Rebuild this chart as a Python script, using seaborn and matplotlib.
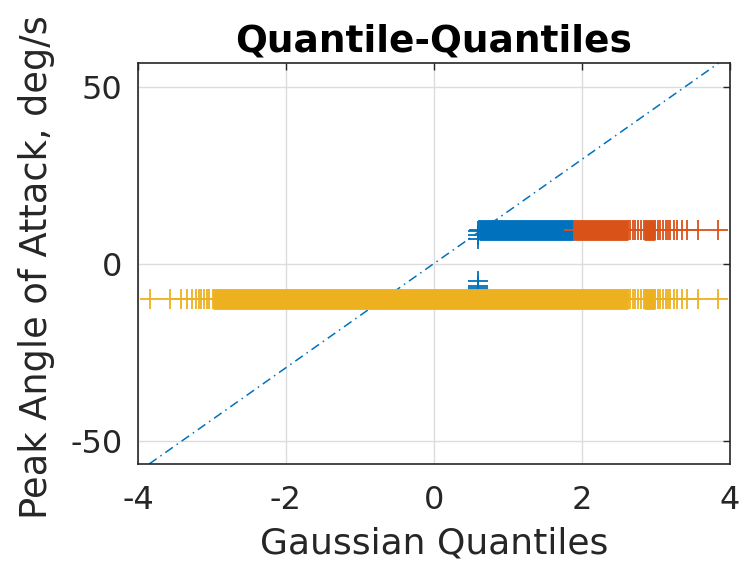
#!/usr/bin/env python

import matplotlib
matplotlib.use('Agg')
import matplotlib.pyplot as plt
import seaborn as sns

# Gaussian quantile positions
blue_level = 9.5
blue_band = [0.61, 1.89]  # solid run of markers
blue_x = [0.59, 0.59, 0.59, 0.59, 0.59, 0.59, 0.59]
blue_y = [-7.2, -6.8, -6.3, -4.7, 7.1, 8.2, 9.4]

orange_level = 9.5
orange_bands = [[1.89, 2.62], [2.84, 2.99]]
orange_x = [2.65, 2.69, 2.72, 2.76, 2.80,
            3.03, 3.06, 3.10, 3.13, 3.16, 3.19, 3.24, 3.29, 3.35, 3.42, 3.57, 3.84]

yellow_level = -10
yellow_bands = [[-2.99, 2.62], [2.84, 2.99]]
yellow_x = [-3.84, -3.57, -3.42, -3.34, -3.27, -3.21, -3.18, -3.15, -3.11, -3.07, -3.04,
            2.65, 2.69, 2.72, 2.76, 2.80,
            3.03, 3.06, 3.10, 3.13, 3.16, 3.19, 3.24, 3.29, 3.35, 3.42, 3.57, 3.84]

ref_x = [-3.85, 3.85]
ref_y = [-56.5, 56.8]

BLUE = '#0072BD'
ORANGE = '#D95319'
YELLOW = '#EDB120'
MS = 15  # marker size in points


def draw_series(ax, level, bands, xs, ys, color):
    for a, b in bands:
        ax.plot([a, b], [level, level], lw=MS, color=color, solid_capstyle='butt', zorder=3)
        xs = xs + [a, b]
        ys = ys + [level, level]
    sns.scatterplot(x=xs, y=ys, marker='+', s=MS ** 2, color=color, linewidth=1.3,
                    ax=ax, zorder=3, legend=False)


def main():
    sns.set_style('white')
    plt.rcParams['font.family'] = ['DejaVu Sans']

    fig = plt.figure(figsize=(7.44, 5.63), dpi=100)
    ax = fig.add_axes([0.1855, 0.1758, 0.7955, 0.7122])

    ax.plot(ref_x, ref_y, color=BLUE, lw=1.1, linestyle=(0, (6, 3, 1, 3)), zorder=2)

    draw_series(ax, blue_level, [blue_band], list(blue_x), list(blue_y), BLUE)
    draw_series(ax, orange_level, orange_bands, list(orange_x),
                [orange_level] * len(orange_x), ORANGE)
    draw_series(ax, yellow_level, yellow_bands, list(yellow_x),
                [yellow_level] * len(yellow_x), YELLOW)

    ax.set_xlim(-4, 4)
    ax.set_ylim(-56.5, 56.8)
    ax.set_xticks([-4, -2, 0, 2, 4])
    ax.set_yticks([-50, 0, 50])
    ax.set_xticklabels(['-4', '-2', '0', '2', '4'])
    ax.set_yticklabels(['-50', '0', '50'])
    ax.grid(True, color='#dcdcdc', lw=1)
    ax.set_axisbelow(True)
    ax.tick_params(direction='in', length=5, width=1, colors='#262626', labelsize=23,
                   top=True, right=True)
    ax.tick_params(axis='x', pad=15)
    ax.tick_params(axis='y', pad=11)
    for s in ax.spines.values():
        s.set_visible(True)
        s.set_color('#262626')
        s.set_linewidth(1.2)

    ax.set_title('Quantile-Quantiles', fontsize=27, fontweight='bold', color='black', pad=8)
    ax.set_xlabel('Gaussian Quantiles', fontsize=26, color='#262626', labelpad=8)
    ax.set_ylabel('Peak Angle of Attack, deg/s', fontsize=26.5, color='#262626')
    ax.yaxis.set_label_coords(-0.14, 0.49)

    fig.savefig('out.png', dpi=100)


if __name__ == '__main__':
    main()
